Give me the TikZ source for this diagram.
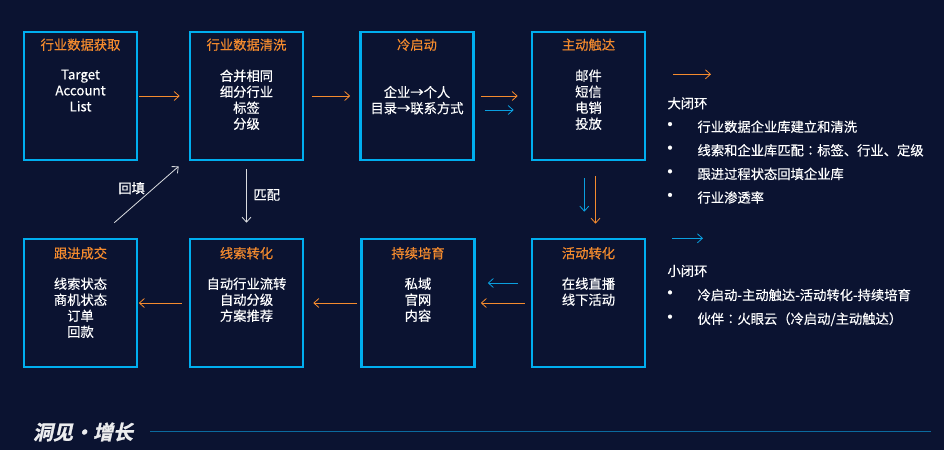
\documentclass[tikz,border=0pt]{standalone}
\usepackage{fontspec}
\setmainfont[FakeBold=0.35]{Noto Sans CJK SC}
\newfontfamily\punctfont[FakeBold=0.35]{Noto Sans CJK TC}
\newfontfamily\logofont[FakeSlant=0.22,FakeBold=1.2]{Noto Sans CJK SC Bold}
\usetikzlibrary{arrows.meta}
\definecolor{pagebg}{HTML}{0B1331}
\definecolor{boxblue}{HTML}{00AEEF}
\definecolor{arrowblue}{HTML}{0A9FDF}
\definecolor{stageorange}{HTML}{F58B2E}
\definecolor{footline}{HTML}{0B6A9E}

\begin{document}
\begin{tikzpicture}[x=1pt,y=1pt,node distance=166pt,
stagebox/.style={draw=boxblue,line width=2.4pt,minimum width=113.2pt,minimum height=128.2pt,inner sep=0},
stagetitle/.style={text=stageorange,font=\fontsize{13.3}{16}\selectfont,inner sep=0},
stagebody/.style={text=white,align=center,font=\fontsize{13.3}{16}\selectfont,inner sep=0,execute at begin node={\rule{0pt}{12pt}}},
sidetext/.style={text=white,anchor=west,font=\fontsize{13.3}{16}\selectfont,inner sep=0},
sidedot/.style={text=white,font=\fontsize{19}{16}\selectfont,inner sep=0},
steparrow/.style={-{Straight Barb[length=5pt,width=9pt]},line width=.8pt},
orangearrow/.style={steparrow,draw=stageorange},
bluearrow/.style={steparrow,draw=arrowblue},
whitearrow/.style={steparrow,draw=white!85!pagebg}]

\fill[pagebg] (0,0) rectangle (944,-450);

% Nodes
\node[stagebox] (s1) at (80.5,-96) {};
\node[stagebox,right of = s1] (s2) {};
\node[stagebox,right of = s2,xshift=4.5pt] (s3) {};
\node[stagebox,right of = s3,xshift=5.5pt] (s4) {};
\node[stagebox,node distance=207pt,below of = s4] (s5) {};
\node[stagebox,node distance=170.5pt,left of = s5] (s6) {};
\node[stagebox,node distance=171.5pt,left of = s6] (s7) {};
\node[stagebox,left of = s7] (s8) {};

\node[stagetitle] (t1) at ([yshift=-14pt]s1.north) {行业数据获取};
\node[stagetitle] (t2) at ([yshift=-14pt]s2.north) {行业数据清洗};
\node[stagetitle] (t3) at ([yshift=-14pt]s3.north) {冷启动};
\node[stagetitle] (t4) at ([yshift=-14pt]s4.north) {主动触达};
\node[stagetitle] (t5) at ([yshift=-15.5pt]s5.north) {活动转化};
\node[stagetitle] (t6) at ([yshift=-15.5pt]s6.north) {持续培育};
\node[stagetitle] (t7) at ([yshift=-15.5pt]s7.north) {线索转化};
\node[stagetitle] (t8) at ([yshift=-15.5pt]s8.north) {跟进成交};

\node[stagebody,node distance=24.7pt,below of = t1,anchor=north] (b1) {Target\\Account\\List};
\node[stagebody,node distance=24.7pt,below of = t2,anchor=north] (b2) {合并相同\\细分行业\\标签\\分级};
\node[stagebody,node distance=41pt,below of = t3,anchor=north] (b3) {企业→个人\\目录→联系方式};
\node[stagebody,node distance=24.7pt,below of = t4,anchor=north] (b4) {邮件\\短信\\电销\\投放};
\node[stagebody,node distance=24.2pt,below of = t5,anchor=north] (b5) {在线直播\\线下活动};
\node[stagebody,node distance=24.2pt,below of = t6,anchor=north] (b6) {私域\\官网\\内容};
\node[stagebody,node distance=24.2pt,below of = t7,anchor=north] (b7) {自动行业流转\\自动分级\\方案推荐};
\node[stagebody,node distance=24.2pt,below of = t8,anchor=north] (b8) {线索状态\\商机状态\\订单\\回款};

\node[stagebody] (fill) at (131.7,-187.7) {回填};
\node[stagebody] (match) at (266.7,-194.3) {匹配};

% side lists
\coordinate (bigfrom) at (673,-74.3);
\coordinate (bigto) at (711,-74.3);
\coordinate (smallfrom) at (672,-238.3);
\coordinate (smallto) at (703,-238.3);

\node[sidetext] (big) at (667.3,-103.3) {大闭环};
\node[sidetext] (l1) at (697.3,-126.7) {行业数据企业库建立和清洗};
\node[sidetext] (l2) at ([yshift=-23.6pt]l1.west) {线索和企业库匹配{\punctfont ：}标签、行业、定级};
\node[sidetext] (l3) at ([yshift=-23.6pt]l2.west) {跟进过程状态回填企业库};
\node[sidetext] (l4) at ([yshift=-23.6pt]l3.west) {行业渗透率};
\node[sidedot] (d1) at ([xshift=-27.3pt]l1.west) {•};
\node[sidedot] (d2) at ([xshift=-27.3pt]l2.west) {•};
\node[sidedot] (d3) at ([xshift=-27.3pt]l3.west) {•};
\node[sidedot] (d4) at ([xshift=-27.3pt]l4.west) {•};

\node[sidetext] (small) at (667.3,-271) {小闭环};
\node[sidetext] (m1) at (697.3,-295) {冷启动-主动触达-活动转化-持续培育};
\node[sidetext] (m2) at ([yshift=-24.3pt]m1.west) {伙伴{\punctfont ：}火眼云{\punctfont （}冷启动/主动触达{\punctfont ）}};
\node[sidedot] (e1) at ([xshift=-27.3pt]m1.west) {•};
\node[sidedot] (e2) at ([xshift=-27.3pt]m2.west) {•};

% footer
\node[text=white!92!pagebg,inner sep=0,font=\logofont\fontsize{20}{20}\selectfont] (logo) at (83,-432) {洞见·增长};
\coordinate (lineend) at (931,-431.3);
\draw[footline,line width=.9pt] ([xshift=17pt]logo.east |- lineend) -- (lineend);

%arcs
\draw[orangearrow,shorten <=.5pt,shorten >=9pt] (s1) -- (s2);
\draw[orangearrow,shorten <=8pt,shorten >=9pt] (s2) -- (s3);
\draw[orangearrow,shorten <=6pt,shorten >=13pt] (s3) -- (s4);
\draw[bluearrow,shorten <=10pt,shorten >=17pt] ([yshift=-14pt]s3.east) -- ([yshift=-14pt]s4.west);
\draw[orangearrow,shorten <=15pt,shorten >=14pt] ([xshift=7pt]s4.south) -- ([xshift=7pt]s5.north);
\draw[bluearrow,shorten <=17pt,shorten >=26pt] ([xshift=-4.2pt]s4.south) -- ([xshift=-4.2pt]s5.north);
\draw[orangearrow,shorten <=6pt,shorten >=5pt] (s5) -- (s6);
\draw[bluearrow,shorten <=13pt,shorten >=12pt] ([yshift=20pt]s5.west) -- ([yshift=20pt]s6.east);
\draw[orangearrow,shorten <=3pt,shorten >=9pt] (s6) -- (s7);
\draw[orangearrow,shorten <=7pt,shorten >=.5pt] (s7) -- (s8);
\draw[whitearrow,shorten <=8pt,shorten >=15pt] (s2) -- (s7);
\draw[whitearrow] ([shift={(-24pt,15pt)}]s8.north east) -- ([shift={(-10pt,-5pt)}]s2.south west);

\draw[orangearrow] (bigfrom) -- (bigto);
\draw[bluearrow] (smallfrom) -- (smallto);

\end{tikzpicture}
\end{document}
